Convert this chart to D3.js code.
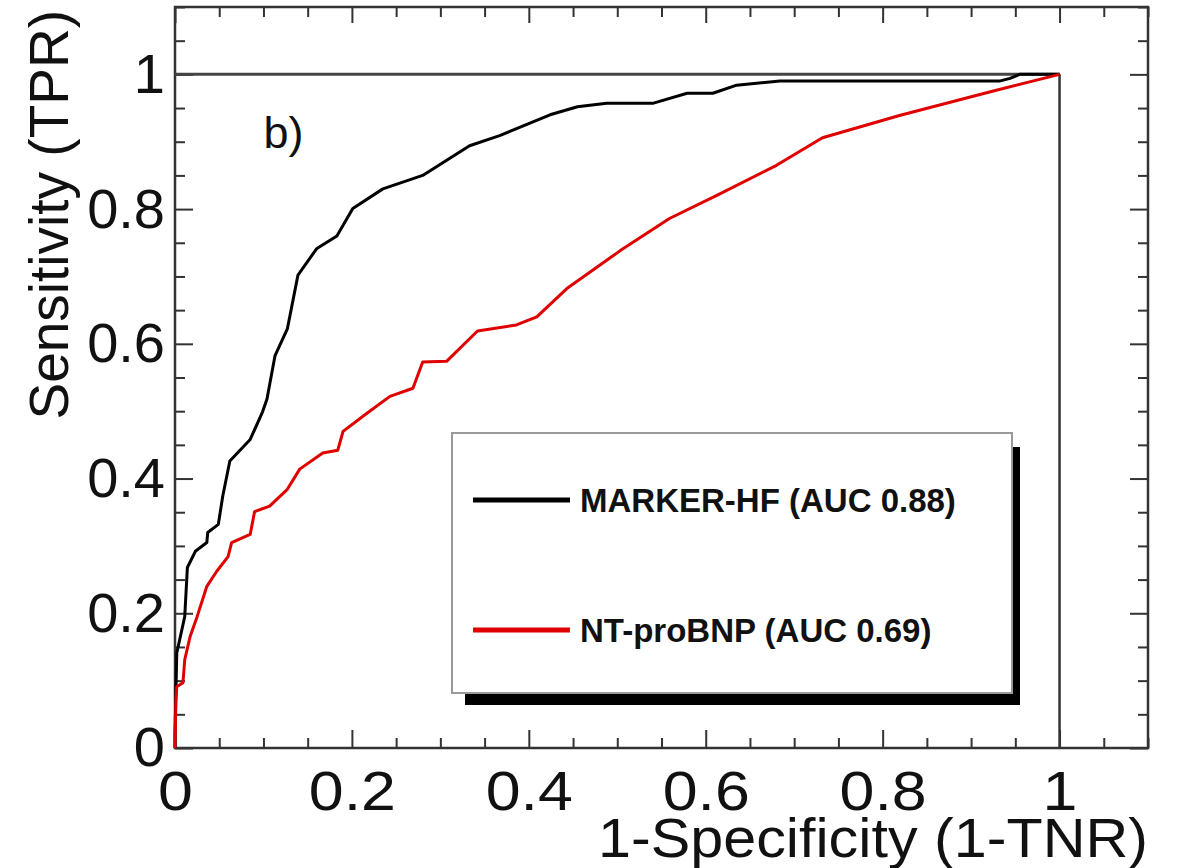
<!DOCTYPE html>
<html>
<head>
<meta charset="utf-8">
<script src="https://cdn.jsdelivr.net/npm/d3@7"></script>
<style>
  body { margin: 0; background: #fff; }
  svg { display: block; font-family: "Liberation Sans", Arial, Helvetica, sans-serif; }
  .axis path { display: none; }
  .axis line { stroke: #333; stroke-width: 2; }
  .axis text { font-size: 56px; fill: #111; }
</style>
</head>
<body>
<div id="graphic"></div>
<script>
// ROC points (false positive rate, true positive rate)
const mhfFPR = [0, 0, 0.002, 0.011, 0.014, 0.023, 0.036, 0.037, 0.049, 0.054, 0.062, 0.085, 0.099, 0.104, 0.113, 0.127, 0.139, 0.160, 0.183, 0.201, 0.235, 0.280, 0.333, 0.367, 0.424, 0.455, 0.488, 0.540, 0.579, 0.608, 0.635, 0.684, 0.932, 0.944, 0.955, 1];
const mhfTPR = [0, 0.022, 0.141, 0.195, 0.268, 0.292, 0.305, 0.320, 0.332, 0.374, 0.426, 0.458, 0.499, 0.518, 0.582, 0.622, 0.702, 0.741, 0.760, 0.801, 0.830, 0.850, 0.894, 0.909, 0.940, 0.952, 0.957, 0.957, 0.972, 0.972, 0.984, 0.990, 0.990, 0.994, 1, 1];

const bnpFPR = [0, 0.001, 0.002, 0.009, 0.011, 0.017, 0.025, 0.036, 0.047, 0.060, 0.064, 0.085, 0.090, 0.107, 0.127, 0.141, 0.167, 0.184, 0.190, 0.217, 0.243, 0.269, 0.280, 0.307, 0.342, 0.386, 0.409, 0.443, 0.503, 0.559, 0.612, 0.680, 0.732, 0.819, 0.924, 1];
const bnpTPR = [0, 0.071, 0.091, 0.097, 0.131, 0.165, 0.195, 0.240, 0.262, 0.284, 0.305, 0.317, 0.351, 0.359, 0.384, 0.414, 0.438, 0.442, 0.470, 0.497, 0.522, 0.534, 0.573, 0.574, 0.619, 0.628, 0.640, 0.682, 0.738, 0.786, 0.820, 0.865, 0.906, 0.939, 0.975, 1];

const seriesNames = ['MARKER-HF (AUC 0.88)', 'NT-proBNP (AUC 0.69)'];
const seriesColours = ['#000000', '#e00000'];

const majorTicks = [0, 0.2, 0.4, 0.6, 0.8, 1];
const minorTicks = d3.range(0, 1.1001, 0.05).map(v => +v.toFixed(2)).filter(v => !majorTicks.includes(v));
const tickLabels = ['0', '0.2', '0.4', '0.6', '0.8', '1'];

const width = 1178, height = 868;
const margin = { top: 7, right: 30, bottom: 120, left: 175 };
const chartWidth = width - margin.left - margin.right;
const chartHeight = height - margin.top - margin.bottom;

const svg = d3.select('#graphic').append('svg')
    .attr('width', width)
    .attr('height', height);

svg.append('rect').attr('width', width).attr('height', height).attr('fill', '#fff');

const g = svg.append('g').attr('transform', `translate(${margin.left},${margin.top})`);

const x = d3.scaleLinear().domain([0, 1.1]).range([0, chartWidth]);
const y = d3.scaleLinear().domain([0, 1.1]).range([chartHeight, 0]);

// ticks on all four sides, pointing inwards
const fmt = d => tickLabels[majorTicks.indexOf(d)];

const xAxis = g.append('g').attr('class', 'x axis')
    .attr('transform', `translate(0,${chartHeight})`)
    .call(d3.axisBottom(x).tickValues(majorTicks).tickSize(-18).tickPadding(22).tickFormat(fmt));
// x labels in the original are a little wider than the y ones
xAxis.selectAll('.tick text').attr('transform', 'scale(1.12,1)');

g.append('g').attr('class', 'x axis')
    .attr('transform', `translate(0,${chartHeight})`)
    .call(d3.axisBottom(x).tickValues(minorTicks).tickSize(-10).tickFormat(''));
g.append('g').attr('class', 'x axis')
    .call(d3.axisTop(x).tickValues(majorTicks).tickSize(-16).tickFormat(''));
g.append('g').attr('class', 'x axis')
    .call(d3.axisTop(x).tickValues(minorTicks).tickSize(-10).tickFormat(''));

g.append('g').attr('class', 'y axis')
    .call(d3.axisLeft(y).tickValues(majorTicks).tickSize(-18).tickPadding(10).tickFormat(fmt));
g.append('g').attr('class', 'y axis')
    .call(d3.axisLeft(y).tickValues(minorTicks).tickSize(-10).tickFormat(''));
g.append('g').attr('class', 'y axis')
    .attr('transform', `translate(${chartWidth},0)`)
    .call(d3.axisRight(y).tickValues(majorTicks).tickSize(-18).tickFormat(''));
g.append('g').attr('class', 'y axis')
    .attr('transform', `translate(${chartWidth},0)`)
    .call(d3.axisRight(y).tickValues(minorTicks).tickSize(-10).tickFormat(''));

// frame
g.append('rect')
    .attr('width', chartWidth).attr('height', chartHeight)
    .attr('fill', 'none').attr('stroke', '#333').attr('stroke-width', 2.5);

// reference lines TPR = 1 and FPR = 1
g.append('line')
    .attr('x1', x(0)).attr('x2', x(1)).attr('y1', y(1)).attr('y2', y(1))
    .attr('stroke', '#444').attr('stroke-width', 3);
g.append('line')
    .attr('x1', x(1)).attr('x2', x(1)).attr('y1', y(1)).attr('y2', y(0))
    .attr('stroke', '#333').attr('stroke-width', 2.5);

// curves
const line = d3.line().x(d => x(d[0])).y(d => y(d[1]));
const curves = [d3.zip(mhfFPR, mhfTPR), d3.zip(bnpFPR, bnpTPR)];

g.selectAll('path.roc')
    .data(curves)
    .join('path')
    .attr('class', 'roc')
    .attr('d', line)
    .attr('fill', 'none')
    .attr('stroke', (d, i) => seriesColours[i])
    .attr('stroke-width', 3)
    .attr('stroke-linejoin', 'round');

// panel tag
g.append('text')
    .attr('x', x(0.1)).attr('y', 141)
    .attr('font-size', 45)
    .attr('fill', '#111')
    .text('b)');

// legend with drop shadow
const lg = svg.append('g').attr('transform', 'translate(452,433)');
lg.append('rect').attr('x', 13).attr('y', 14).attr('width', 555).attr('height', 258).attr('fill', '#000');
lg.append('rect').attr('width', 560).attr('height', 260)
    .attr('fill', '#fff').attr('stroke', '#9a9a9a').attr('stroke-width', 2);

const item = lg.selectAll('g.item')
    .data(seriesNames)
    .join('g')
    .attr('class', 'item')
    .attr('transform', (d, i) => `translate(0,${67 + i * 130})`);

item.append('line')
    .attr('x1', 21).attr('x2', 118)
    .attr('stroke', (d, i) => seriesColours[i])
    .attr('stroke-width', 5);

item.append('text')
    .attr('x', 128).attr('dy', '0.36em')
    .attr('font-size', 33)
    .attr('font-weight', 'bold')
    .attr('fill', '#111')
    .text(d => d);

// axis titles
svg.append('text')
    .attr('x', 1148).attr('y', 857)
    .attr('text-anchor', 'end')
    .attr('font-size', 56)
    .attr('textLength', 550)
    .attr('lengthAdjust', 'spacingAndGlyphs')
    .attr('fill', '#111')
    .text('1-Specificity (1-TNR)');

svg.append('text')
    .attr('transform', 'translate(68,10) rotate(-90)')
    .attr('text-anchor', 'end')
    .attr('font-size', 55)
    .attr('fill', '#111')
    .text('Sensitivity (TPR)');
</script>
</body>
</html>
